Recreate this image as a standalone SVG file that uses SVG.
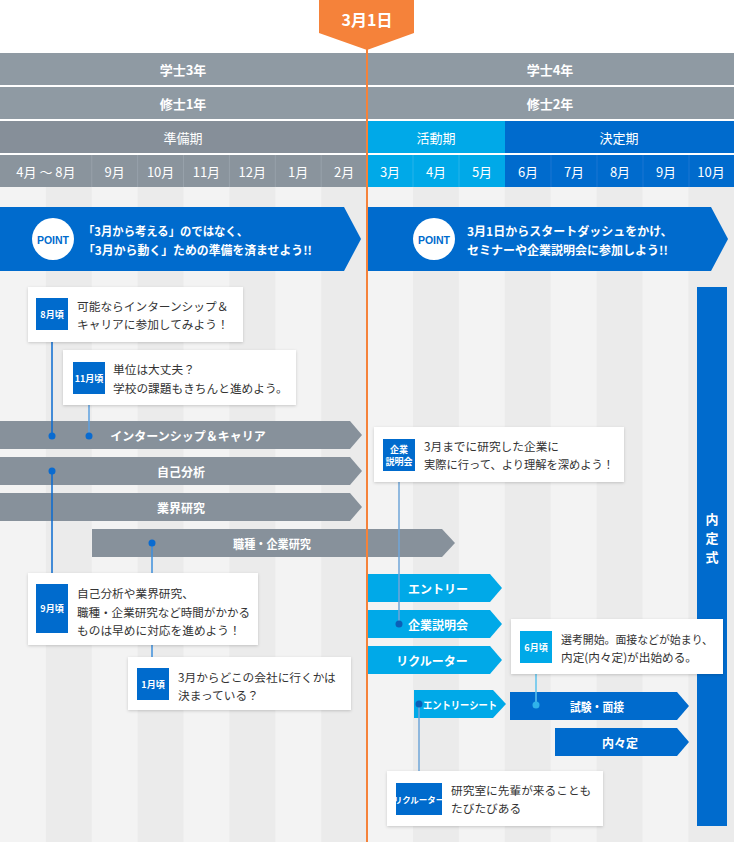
<svg xmlns="http://www.w3.org/2000/svg" width="734" height="842" viewBox="0 0 734 842">
<defs>
<filter id="sh" x="-10%" y="-20%" width="120%" height="140%">
<feDropShadow dx="0" dy="1" stdDeviation="1.5" flood-color="#000" flood-opacity="0.18"/>
</filter>
</defs>
<style>
text{font-family:"Noto Sans CJK JP","Noto Sans",sans-serif;}
.hd{fill:#fff;font-size:13px;font-weight:bold;text-anchor:middle;dominant-baseline:central;}
.hn{fill:#fff;font-size:13px;text-anchor:middle;dominant-baseline:central;}
.mo{fill:#fff;font-size:13px;text-anchor:middle;dominant-baseline:central;}
.bn{fill:#fff;font-size:12px;font-weight:bold;dominant-baseline:central;}
.pt{fill:#006bcd;font-size:10.5px;font-weight:bold;text-anchor:middle;dominant-baseline:central;font-family:"Liberation Sans",Arial,sans-serif;}
.bx{fill:#fff;filter:url(#sh);}
.ct{fill:#333;font-size:11.7px;dominant-baseline:central;}
.lb{fill:#fff;font-size:9px;font-weight:bold;text-anchor:middle;dominant-baseline:central;}
.bt{fill:#fff;font-size:12px;font-weight:bold;text-anchor:middle;dominant-baseline:central;}
.gray{fill:#87919b;}
.lblue{fill:#00a9e8;}
.dblue{fill:#006bcd;}
.st1{fill:#f3f3f3;}
.st2{fill:#ebebeb;}
</style>

<!-- background stripes -->
<g id="stripes">
<rect x="0" y="187" width="734" height="655" class="st1"/>
<rect x="45.9" y="187" width="45.9" height="655" class="st2"/>
<rect x="137.6" y="187" width="45.9" height="655" class="st2"/>
<rect x="229.4" y="187" width="45.9" height="655" class="st2"/>
<rect x="321.2" y="187" width="45.9" height="655" class="st2"/>
<rect x="413" y="187" width="45.9" height="655" class="st2"/>
<rect x="504.8" y="187" width="45.9" height="655" class="st2"/>
<rect x="596.6" y="187" width="45.9" height="655" class="st2"/>
<rect x="688.4" y="187" width="45.6" height="655" class="st2"/>
</g>

<!-- header -->
<g id="header">
<rect x="0" y="53" width="734" height="32" fill="#8f9aa3"/>
<rect x="0" y="87" width="734" height="32" fill="#8f9aa3"/>
<rect x="0" y="121" width="367" height="32" fill="#868f99"/>
<rect x="367" y="121" width="138" height="32" fill="#00a9e8"/>
<rect x="505" y="121" width="229" height="32" fill="#006bcd"/>
<rect x="0" y="155" width="367" height="32" fill="#8a949d"/>
<rect x="367" y="155" width="138" height="32" fill="#00a9e8"/>
<rect x="505" y="155" width="229" height="32" fill="#006bcd"/>
<g stroke="#97a1aa" stroke-width="1">
<line x1="91.75" y1="155" x2="91.75" y2="187"/>
<line x1="137.6" y1="155" x2="137.6" y2="187"/>
<line x1="183.5" y1="155" x2="183.5" y2="187"/>
<line x1="229.4" y1="155" x2="229.4" y2="187"/>
<line x1="275.3" y1="155" x2="275.3" y2="187"/>
<line x1="321.2" y1="155" x2="321.2" y2="187"/>
</g>
<g stroke="#26b3ea" stroke-width="1">
<line x1="413" y1="155" x2="413" y2="187"/>
<line x1="459" y1="155" x2="459" y2="187"/>
</g>
<g stroke="#1a77d2" stroke-width="1">
<line x1="551" y1="155" x2="551" y2="187"/>
<line x1="597" y1="155" x2="597" y2="187"/>
<line x1="643" y1="155" x2="643" y2="187"/>
<line x1="689" y1="155" x2="689" y2="187"/>
</g>
<text x="183" y="69" class="hd">学士3年</text>
<text x="550" y="69" class="hd">学士4年</text>
<text x="183" y="103" class="hd">修士1年</text>
<text x="550" y="103" class="hd">修士2年</text>
<text x="183" y="137" class="hn">準備期</text>
<text x="436" y="137" class="hn">活動期</text>
<text x="619" y="137" class="hn">決定期</text>
<text x="45.9" y="171" class="mo">4月 〜 8月</text>
<text x="114.7" y="171" class="mo">9月</text>
<text x="160.6" y="171" class="mo">10月</text>
<text x="206.4" y="171" class="mo">11月</text>
<text x="252.3" y="171" class="mo">12月</text>
<text x="298.2" y="171" class="mo">1月</text>
<text x="344.1" y="171" class="mo">2月</text>
<text x="390" y="171" class="mo">3月</text>
<text x="436" y="171" class="mo">4月</text>
<text x="482" y="171" class="mo">5月</text>
<text x="528" y="171" class="mo">6月</text>
<text x="574" y="171" class="mo">7月</text>
<text x="620" y="171" class="mo">8月</text>
<text x="666" y="171" class="mo">9月</text>
<text x="711" y="171" class="mo">10月</text>
</g>

<!-- POINT banners -->
<g id="point-left">
<polygon points="0,207 344,207 361,239 344,271 0,271" class="dblue"/>
<circle cx="53" cy="239" r="21" fill="#fff"/>
<text x="53" y="240" class="pt">POINT</text>
<text x="83" y="230" class="bn" textLength="165" lengthAdjust="spacingAndGlyphs">「3月から考える」のではなく、</text>
<text x="83" y="249" class="bn" textLength="229" lengthAdjust="spacingAndGlyphs">「3月から動く」ための準備を済ませよう!!</text>
</g>
<g id="point-right">
<polygon points="367,207 711,207 728,239 711,271 367,271" class="dblue"/>
<circle cx="434" cy="239" r="21" fill="#fff"/>
<text x="434" y="240" class="pt">POINT</text>
<text x="467" y="230" class="bn">3月1日からスタートダッシュをかけ、</text>
<text x="467" y="249" class="bn">セミナーや企業説明会に参加しよう!!</text>
</g>

<!-- bars -->
<g id="bar-intern"><polygon points="0,421 350,421 362,435 350,449 0,449" class="gray"/><text x="188" y="435" class="bt">インターンシップ＆キャリア</text></g>
<g id="bar-jiko"><polygon points="0,457 350,457 362,471 350,485 0,485" class="gray"/><text x="181" y="471" class="bt">自己分析</text></g>
<g id="bar-gyokai"><polygon points="0,493 350,493 362,507 350,521 0,521" class="gray"/><text x="181" y="507" class="bt">業界研究</text></g>
<g id="bar-shokushu"><polygon points="92,529 442,529 455,543 442,557 92,557" class="gray"/><text x="272" y="543" class="bt" textLength="78" lengthAdjust="spacingAndGlyphs">職種・企業研究</text></g>
<g id="bar-entry"><polygon points="367,574 490,574 502,588 490,602 367,602" class="lblue"/><text x="438" y="588" class="bt">エントリー</text></g>
<g id="bar-setsumei"><polygon points="367,610 490,610 502,624 490,638 367,638" class="lblue"/><text x="438" y="624" class="bt">企業説明会</text></g>
<g id="bar-recruiter"><polygon points="367,646 490,646 502,660 490,674 367,674" class="lblue"/><text x="432" y="660" class="bt">リクルーター</text></g>
<g id="bar-es"><polygon points="414,690 493,690 506,704 493,718 414,718" class="lblue"/><text x="460" y="704" class="bt" style="font-size:10.5px" textLength="74" lengthAdjust="spacingAndGlyphs">エントリーシート</text></g>
<g id="bar-shiken"><polygon points="510,692 677,692 689,706 677,720 510,720" class="dblue"/><text x="597" y="706" class="bt" textLength="54" lengthAdjust="spacingAndGlyphs">試験・面接</text></g>
<g id="bar-nainaitei"><polygon points="555,728 677,728 689,742 677,756 555,756" class="dblue"/><text x="620" y="742" class="bt">内々定</text></g>
<g id="bar-naiteishiki"><rect x="697" y="287" width="30" height="539" class="dblue"/>
<text x="712" y="518" class="bt" style="font-size:13px">内</text>
<text x="712" y="537" class="bt" style="font-size:13px">定</text>
<text x="712" y="556" class="bt" style="font-size:13px">式</text></g>

<!-- connectors -->
<g id="connectors" fill="none" stroke-width="1.5">
<line x1="52" y1="330" x2="52" y2="436" stroke="#0a6bd0"/>
<line x1="89" y1="394" x2="89" y2="436" stroke="#5da0e0"/>
<line x1="52" y1="471" x2="52" y2="584" stroke="#0a6bd0"/>
<line x1="152" y1="543" x2="152" y2="668" stroke="#3d8fdc"/>
<line x1="399" y1="471" x2="399" y2="624" stroke="#6fa6d9"/>
<line x1="536" y1="663" x2="536" y2="705" stroke="#5cc3ee"/>
<line x1="419" y1="704" x2="419" y2="783" stroke="#6fa6d9"/>
<g stroke="none">
<circle cx="52" cy="436" r="3.5" fill="#0a6bd0"/>
<circle cx="89" cy="436" r="3.5" fill="#0a6bd0"/>
<circle cx="52" cy="471" r="3.5" fill="#0a6bd0"/>
<circle cx="152" cy="543" r="3.5" fill="#0a6bd0"/>
<circle cx="399" cy="624" r="3.5" fill="#0b5fb7"/>
<circle cx="419" cy="704" r="3.5" fill="#0b5fb7"/>
<circle cx="536" cy="705" r="3.5" fill="#2fb2ea"/>
</g>
</g>

<!-- callouts -->
<g id="note-aug">
<rect x="28" y="287" width="215" height="55" class="bx"/>
<rect x="36" y="298" width="32" height="32" class="dblue"/>
<text x="52" y="314" class="lb">8月頃</text>
<text x="77" y="305" class="ct">可能ならインターンシップ＆</text>
<text x="77" y="323" class="ct">キャリアに参加してみよう！</text>
</g>
<g id="note-nov">
<rect x="63" y="350" width="233" height="55" class="bx"/>
<rect x="73" y="362" width="32" height="32" class="dblue"/>
<text x="89" y="378" class="lb">11月頃</text>
<text x="113" y="368" class="ct">単位は大丈夫？</text>
<text x="113" y="387" class="ct">学校の課題もきちんと進めよう。</text>
</g>
<g id="note-sep">
<rect x="28" y="573" width="230" height="72" class="bx"/>
<rect x="36" y="584" width="32" height="49" class="dblue"/>
<text x="52" y="608" class="lb">9月頃</text>
<text x="77" y="592" class="ct">自己分析や業界研究、</text>
<text x="77" y="611" class="ct" textLength="173" lengthAdjust="spacingAndGlyphs">職種・企業研究など時間がかかる</text>
<text x="77" y="629" class="ct">ものは早めに対応を進めよう！</text>
</g>
<g id="note-jan">
<rect x="128" y="657" width="223" height="53" class="bx"/>
<rect x="137" y="668" width="32" height="32" class="dblue"/>
<text x="153" y="684" class="lb">1月頃</text>
<text x="178" y="676" class="ct">3月からどこの会社に行くかは</text>
<text x="178" y="694" class="ct">決まっている？</text>
</g>
<g id="note-setsumei">
<rect x="374" y="427" width="250" height="55" class="bx"/>
<rect x="383" y="439" width="32" height="32" class="dblue"/>
<text x="399" y="449" class="lb">企業</text>
<text x="399" y="461" class="lb">説明会</text>
<text x="424" y="445" class="ct">3月までに研究した企業に</text>
<text x="424" y="463" class="ct" textLength="190" lengthAdjust="spacingAndGlyphs">実際に行って、より理解を深めよう！</text>
</g>
<g id="note-jun">
<rect x="511" y="619" width="212" height="55" class="bx"/>
<rect x="520" y="631" width="32" height="32" class="lblue"/>
<text x="536" y="647" class="lb">6月頃</text>
<text x="561" y="638" class="ct" textLength="152" lengthAdjust="spacingAndGlyphs">選考開始。面接などが始まり、</text>
<text x="561" y="656" class="ct" textLength="136" lengthAdjust="spacingAndGlyphs">内定(内々定)が出始める。</text>
</g>
<g id="note-recruiter">
<rect x="387" y="771" width="216" height="55" class="bx"/>
<rect x="396" y="783" width="46" height="32" class="dblue"/>
<text x="419" y="799" class="lb" style="font-size:8.5px">リクルーター</text>
<text x="451" y="789" class="ct">研究室に先輩が来ることも</text>
<text x="451" y="807" class="ct">たびたびある</text>
</g>

<!-- March 1 marker -->
<g id="march1">
<line x1="367" y1="40" x2="367" y2="842" stroke="#f5823a" stroke-width="2"/>
<polygon points="319,0 414,0 414,33 367,50 319,33" fill="#f5823a"/>
<text x="367" y="19" class="hd" style="font-size:16px">3月1日</text>
</g>
</svg>
